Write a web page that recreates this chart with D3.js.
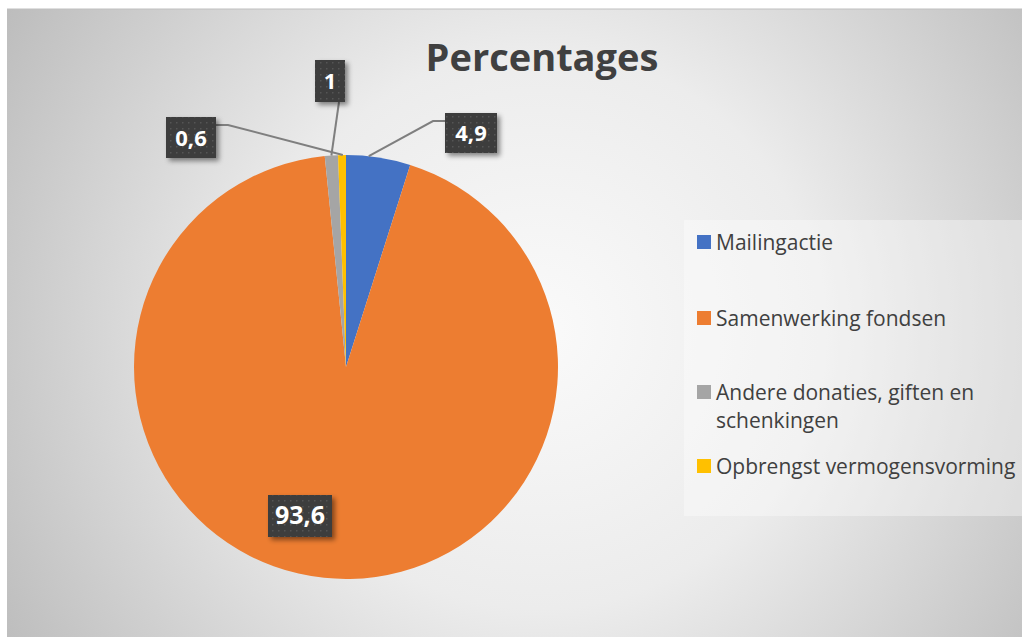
<!DOCTYPE html>
<html><head><meta charset="utf-8">
<script src="https://cdn.jsdelivr.net/npm/d3@7"></script>
<style>body{margin:0;background:#fff;}svg{display:block;}</style>
</head><body>
<svg id="c" width="1026" height="637"></svg>
<script>
const categories = ["Mailingactie","Samenwerking fondsen","Andere donaties, giften en schenkingen","Opbrengst vermogensvorming"];
const values = [4.9, 93.6, 1, 0.6];
const labels = ["4,9","93,6","1","0,6"];
const colors = ["#4472C4","#ED7D31","#A5A5A5","#FFC000"];
const title = "Percentages";

const FONT = "'Open Sans', Lato, sans-serif";
const svg = d3.select("#c");
const defs = svg.append("defs");
const rg = defs.append("radialGradient").attr("id","bg").attr("gradientUnits","userSpaceOnUse")
  .attr("cx",540).attr("cy",330).attr("r",620);
rg.append("stop").attr("offset","0").attr("stop-color","#fafafa");
rg.append("stop").attr("offset","0.45").attr("stop-color","#ececec");
rg.append("stop").attr("offset","1").attr("stop-color","#bdbdbd");
const pat = defs.append("pattern").attr("id","dots").attr("patternUnits","userSpaceOnUse").attr("width",6).attr("height",6);
pat.append("rect").attr("width",6).attr("height",6).attr("fill","#3d3d3d");
pat.append("rect").attr("x",2).attr("y",2).attr("width",1.5).attr("height",1.5).attr("fill","#555");
const f = defs.append("filter").attr("id","sh").attr("x","-20%").attr("y","-20%").attr("width","150%").attr("height","150%");
f.append("feDropShadow").attr("dx",3).attr("dy",3).attr("stdDeviation",2.5).attr("flood-color","#000").attr("flood-opacity",0.45);

svg.append("rect").attr("x",7).attr("y",9).attr("width",1015).attr("height",628).attr("fill","url(#bg)");
svg.append("line").attr("x1",7).attr("x2",1022).attr("y1",9).attr("y2",9).attr("stroke","#bfbfbf");

svg.append("text").attr("x",542).attr("y",71).attr("text-anchor","middle")
  .attr("font-family",FONT).attr("font-weight","bold").attr("font-size",38)
  .attr("fill","#404040").text(title);

const cx = 346, cy = 367, R = 212;
const pie = d3.pie().sort(null).value(d=>d)(values);
const arc = d3.arc().innerRadius(0).outerRadius(R);
const g = svg.append("g").attr("transform",`translate(${cx},${cy})`);
g.selectAll("path").data(pie).join("path").attr("d",arc).attr("fill",(d,i)=>colors[i]);

// data label boxes (layout positions), leader lines anchored on slice edges
const boxes = [
  {x:445,y:113,w:52,h:40, lead:[[445,121],[433,121]], r:0.35},
  {x:268,y:495,w:64,h:42, lead:null},
  {x:315,y:60,w:30,h:42, lead:[[339,102]], r:0.5},
  {x:166,y:117,w:50,h:41, lead:[[216,125],[228,125]], r:0.6}
];
const pt = (d,frac)=>{const a = d.startAngle + (d.endAngle-d.startAngle)*frac; return [cx+R*Math.sin(a), cy-R*Math.cos(a)];};
boxes.forEach((b,i)=>{
  if(b.lead){
    const pts = b.lead.concat([pt(pie[i], b.r)]);
    svg.append("path").attr("d",d3.line()(pts)).attr("fill","none").attr("stroke","#7f7f7f").attr("stroke-width",2);
  }
});
boxes.forEach((b,i)=>{
  svg.append("rect").attr("x",b.x).attr("y",b.y).attr("width",b.w).attr("height",b.h)
    .attr("fill","url(#dots)").attr("filter","url(#sh)");
  svg.append("text").attr("x",b.x+b.w/2).attr("y",b.y+b.h/2+8).attr("text-anchor","middle")
    .attr("font-family",FONT).attr("font-weight","bold").attr("font-size",i===1?25:22)
    .attr("fill","#fff").text(labels[i]);
});

// legend
svg.append("rect").attr("x",684).attr("y",220).attr("width",340).attr("height",296).attr("fill","#fff").attr("opacity",0.35);
const ly = [242,318,392,466];
const lg = svg.append("g").attr("font-family",FONT).attr("font-size",21).attr("fill","#404040");
categories.forEach((c,i)=>{
  lg.append("rect").attr("x",697).attr("y",ly[i]-7).attr("width",14).attr("height",14).attr("fill",colors[i]);
  if(i===2){
    const t = lg.append("text").attr("x",716).attr("y",ly[i]+8);
    t.append("tspan").text("Andere donaties, giften en");
    t.append("tspan").attr("x",716).attr("dy",28).text("schenkingen");
  } else {
    lg.append("text").attr("x",716).attr("y",ly[i]+8).text(c);
  }
});
</script>
</body></html>
